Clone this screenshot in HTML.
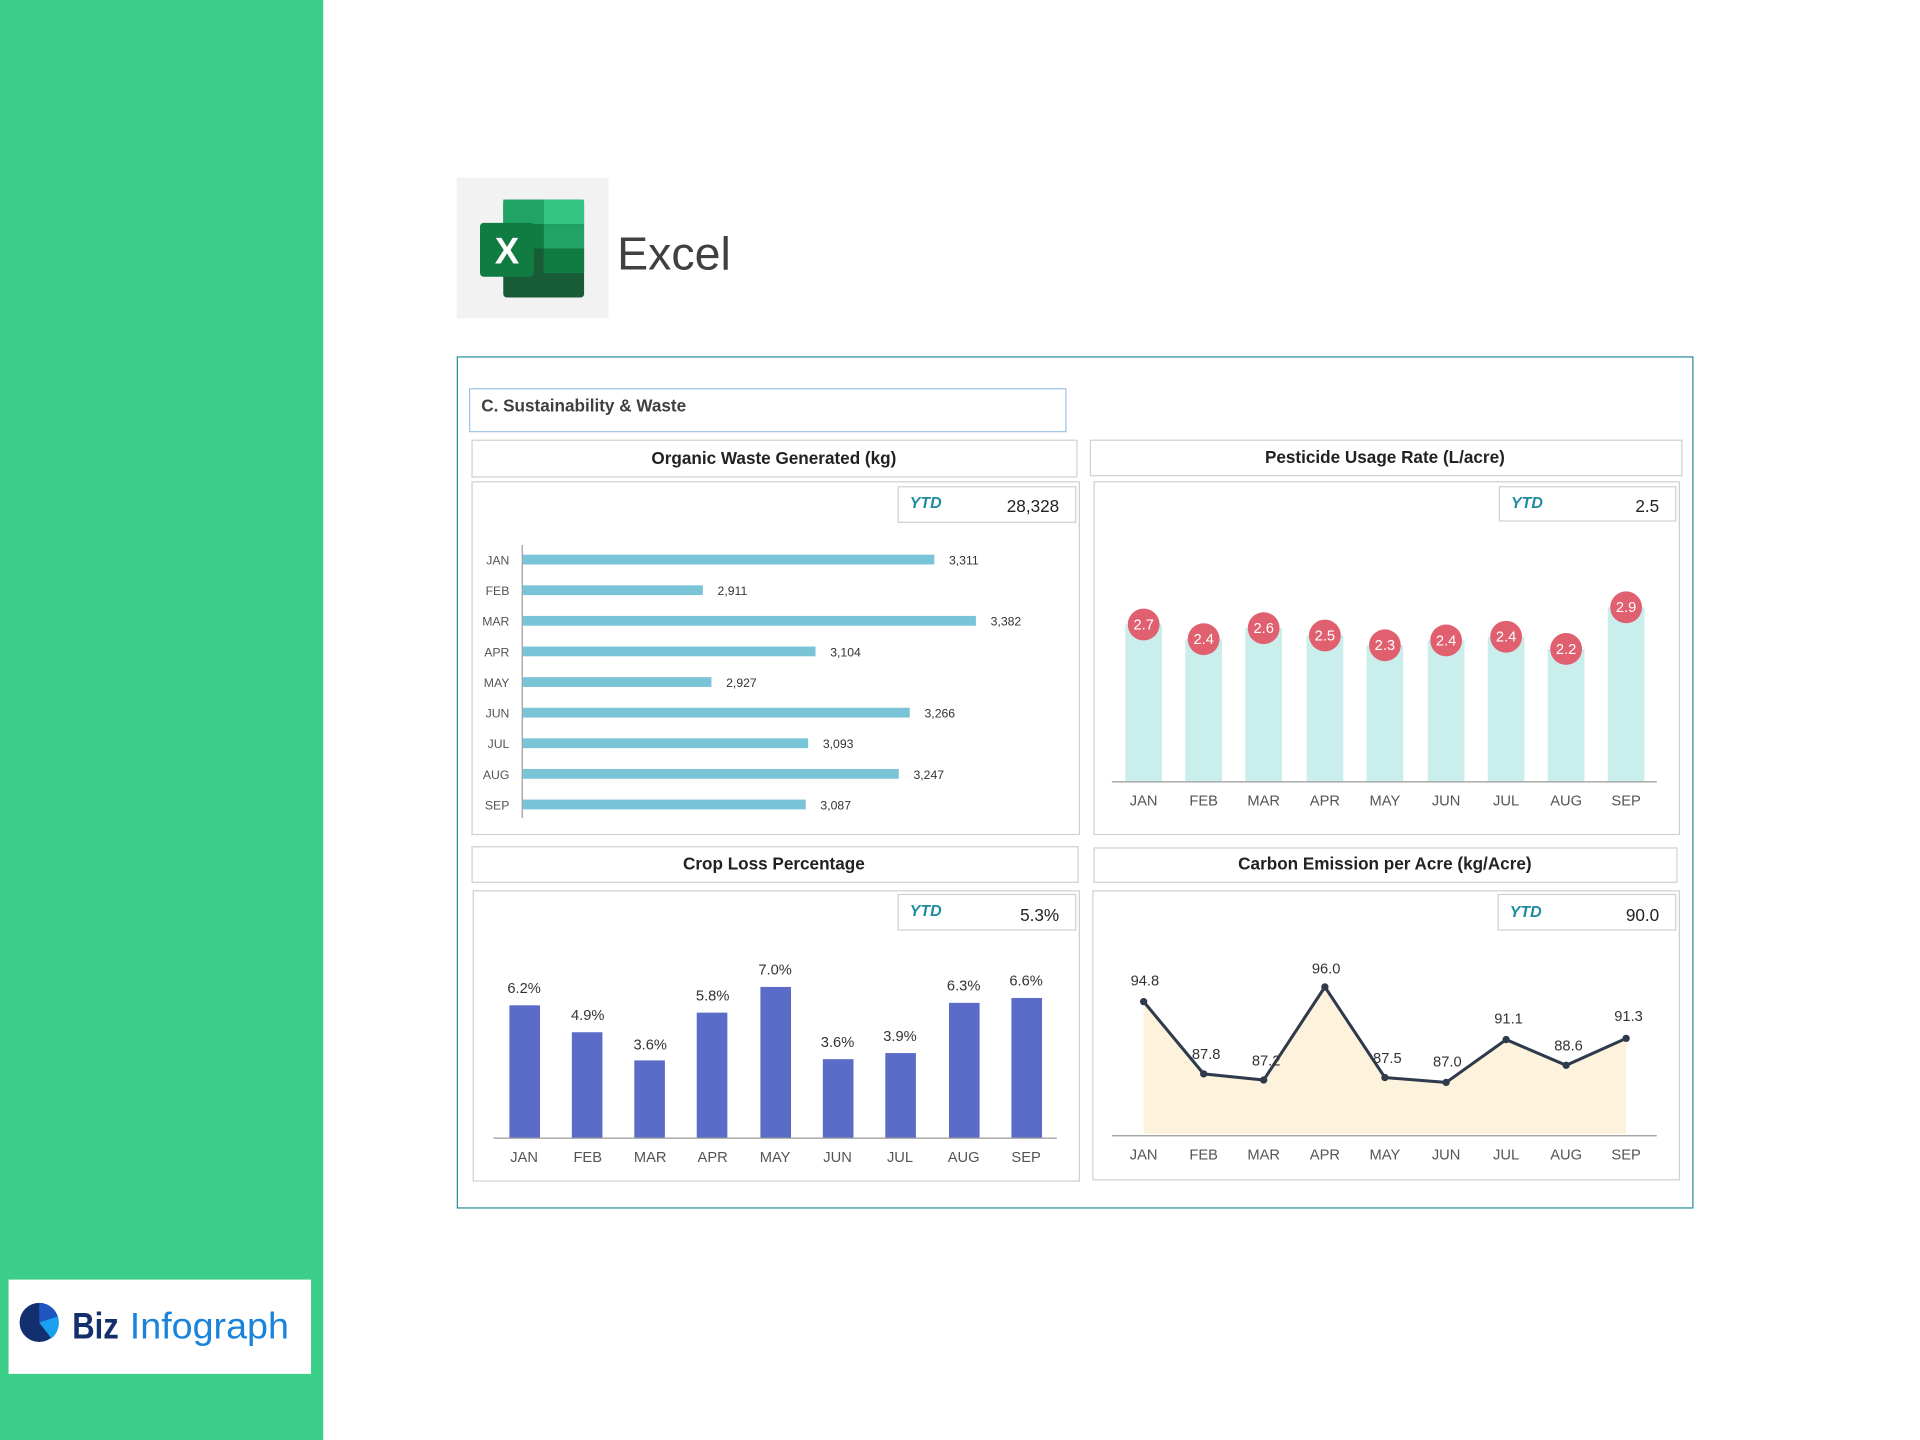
<!DOCTYPE html>
<html><head><meta charset="utf-8"><style>
html,body{margin:0;padding:0;background:#fff}
svg{display:block}
text{font-family:"Liberation Sans",sans-serif}
</style></head><body>
<svg width="1920" height="1440" viewBox="0 0 1568 1176" xmlns="http://www.w3.org/2000/svg">
<rect width="1568" height="1176" fill="#fff"/>
<rect x="0" y="0" width="264" height="1176" fill="#3ccf8a"/>
<!-- logo -->
<rect x="7" y="1045" width="247" height="77" fill="#fff"/>
<circle cx="32" cy="1080" r="16" fill="#13306e"/>
<path d="M32,1080 L32,1064 A16,16 0 0 1 47,1075 Z" fill="#1f55c0"/>
<path d="M32,1080 L47,1075 A16,16 0 0 1 42,1093 Z" fill="#1aa0f0"/>
<text x="59" y="1093" font-size="30" fill="#13306e" font-weight="bold" textLength="38" lengthAdjust="spacingAndGlyphs">Biz</text>
<text x="106" y="1093" font-size="30" fill="#1a84dc" textLength="130" lengthAdjust="spacingAndGlyphs">Infograph</text>
<!-- excel -->
<rect x="373" y="145" width="124" height="115" fill="#f2f2f2"/>
<rect x="411" y="163" width="66" height="80" rx="3" fill="#185c37"/>
<rect x="444" y="163" width="33" height="20" fill="#33c481"/>
<rect x="411" y="163" width="33" height="20" fill="#21a366"/>
<rect x="444" y="183" width="33" height="20" fill="#21a366"/>
<rect x="411" y="183" width="33" height="20" fill="#107c41"/>
<rect x="444" y="203" width="33" height="20" fill="#107c41"/>
<rect x="392" y="182" width="44" height="44" rx="3" fill="#107c41"/>
<text x="414" y="215" font-size="30" fill="#fff" font-weight="bold" text-anchor="middle">X</text>
<text x="504" y="220" font-size="38" fill="#404040">Excel</text>
<!-- frame -->
<rect x="373.5" y="291.5" width="1009" height="695" fill="#fff" stroke="#2a8c9c" stroke-width="1"/>
<rect x="383.5" y="317.5" width="487" height="35" fill="#fff" stroke="#9dc3e6"/>
<text x="393" y="336" font-size="14" font-weight="bold" fill="#404040">C. Sustainability &amp; Waste</text>

<g stroke="#d0d0d0" fill="#fff">
<rect x="385.5" y="359.5" width="494" height="30"/>
<rect x="385.5" y="393.5" width="496" height="288"/>
<rect x="890.5" y="359.5" width="483" height="29"/>
<rect x="893.5" y="393.5" width="478" height="288"/>
<rect x="385.5" y="691.5" width="495" height="29"/>
<rect x="386.5" y="727.5" width="495" height="237"/>
<rect x="893.5" y="692.5" width="476" height="28"/>
<rect x="892.5" y="727.5" width="479" height="236"/>
<rect x="733.5" y="397.5" width="145" height="29"/>
<rect x="1224.5" y="397.5" width="144" height="28"/>
<rect x="733.5" y="730.5" width="145" height="29"/>
<rect x="1223.5" y="730.5" width="145" height="29"/>
</g>
<g font-size="14" font-weight="bold" fill="#222" text-anchor="middle">
<text x="632" y="379">Organic Waste Generated (kg)</text>
<text x="1131" y="378">Pesticide Usage Rate (L/acre)</text>
<text x="632" y="710">Crop Loss Percentage</text>
<text x="1131" y="710">Carbon Emission per Acre (kg/Acre)</text>
</g>
<g font-size="13" font-weight="bold" font-style="italic" fill="#1f8aa0">
<text x="743" y="415">YTD</text><text x="1234" y="415">YTD</text>
<text x="743" y="748">YTD</text><text x="1233" y="749">YTD</text>
</g>
<g font-size="14" fill="#222" text-anchor="end">
<text x="865" y="418">28,328</text><text x="1355" y="418">2.5</text>
<text x="865" y="752">5.3%</text><text x="1355" y="752">90.0</text>
</g>

<!-- organic bars -->
<line x1="426.5" y1="445" x2="426.5" y2="668" stroke="#999"/>
<g fill="#7ac4d8">
<rect x="427" y="453" width="336" height="8"/>
<rect x="427" y="478" width="147" height="8"/>
<rect x="427" y="503" width="370" height="8"/>
<rect x="427" y="528" width="239" height="8"/>
<rect x="427" y="553" width="154" height="8"/>
<rect x="427" y="578" width="316" height="8"/>
<rect x="427" y="603" width="233" height="8"/>
<rect x="427" y="628" width="307" height="8"/>
<rect x="427" y="653" width="231" height="8"/>
</g>
<g font-size="10" fill="#555" text-anchor="end">
<text x="416" y="461">JAN</text><text x="416" y="486">FEB</text><text x="416" y="511">MAR</text><text x="416" y="536">APR</text><text x="416" y="561">MAY</text><text x="416" y="586">JUN</text><text x="416" y="611">JUL</text><text x="416" y="636">AUG</text><text x="416" y="661">SEP</text>
</g>
<g font-size="10" fill="#333">
<text x="775" y="461">3,311</text><text x="586" y="486">2,911</text><text x="809" y="511">3,382</text><text x="678" y="536">3,104</text><text x="593" y="561">2,927</text><text x="755" y="586">3,266</text><text x="672" y="611">3,093</text><text x="746" y="636">3,247</text><text x="670" y="661">3,087</text>
</g>

<!-- pesticide -->
<g fill="#c9eeec">
<rect x="919" y="510" width="30" height="128"/>
<rect x="968" y="522" width="30" height="116"/>
<rect x="1017" y="513" width="30" height="125"/>
<rect x="1067" y="519" width="30" height="119"/>
<rect x="1116" y="527" width="30" height="111"/>
<rect x="1166" y="523" width="30" height="115"/>
<rect x="1215" y="520" width="30" height="118"/>
<rect x="1264" y="530" width="30" height="108"/>
<rect x="1313" y="496" width="30" height="142"/>
</g>
<line x1="908" y1="638.5" x2="1353" y2="638.5" stroke="#999"/>
<g fill="#e0606f">
<circle cx="934" cy="510" r="13"/><circle cx="983" cy="522" r="13"/><circle cx="1032" cy="513" r="13"/><circle cx="1082" cy="519" r="13"/><circle cx="1131" cy="527" r="13"/><circle cx="1181" cy="523" r="13"/><circle cx="1230" cy="520" r="13"/><circle cx="1279" cy="530" r="13"/><circle cx="1328" cy="496" r="13"/>
</g>
<g font-size="12" fill="#fff" text-anchor="middle">
<text x="934" y="514">2.7</text><text x="983" y="526">2.4</text><text x="1032" y="517">2.6</text><text x="1082" y="523">2.5</text><text x="1131" y="531">2.3</text><text x="1181" y="527">2.4</text><text x="1230" y="524">2.4</text><text x="1279" y="534">2.2</text><text x="1328" y="500">2.9</text>
</g>
<g font-size="12" fill="#555" text-anchor="middle">
<text x="934" y="658">JAN</text><text x="983" y="658">FEB</text><text x="1032" y="658">MAR</text><text x="1082" y="658">APR</text><text x="1131" y="658">MAY</text><text x="1181" y="658">JUN</text><text x="1230" y="658">JUL</text><text x="1279" y="658">AUG</text><text x="1328" y="658">SEP</text>
</g>

<!-- crop loss -->
<g fill="#5b6bc8">
<rect x="416" y="821" width="25" height="108"/>
<rect x="467" y="843" width="25" height="86"/>
<rect x="518" y="866" width="25" height="63"/>
<rect x="569" y="827" width="25" height="102"/>
<rect x="621" y="806" width="25" height="123"/>
<rect x="672" y="865" width="25" height="64"/>
<rect x="723" y="860" width="25" height="69"/>
<rect x="775" y="819" width="25" height="110"/>
<rect x="826" y="815" width="25" height="114"/>
</g>
<line x1="403" y1="929.5" x2="863" y2="929.5" stroke="#999"/>
<g font-size="12" fill="#333" text-anchor="middle">
<text x="428" y="811">6.2%</text><text x="480" y="833">4.9%</text><text x="531" y="857">3.6%</text><text x="582" y="817">5.8%</text><text x="633" y="796">7.0%</text><text x="684" y="855">3.6%</text><text x="735" y="850">3.9%</text><text x="787" y="809">6.3%</text><text x="838" y="805">6.6%</text>
</g>
<g font-size="12" fill="#555" text-anchor="middle">
<text x="428" y="949">JAN</text><text x="480" y="949">FEB</text><text x="531" y="949">MAR</text><text x="582" y="949">APR</text><text x="633" y="949">MAY</text><text x="684" y="949">JUN</text><text x="735" y="949">JUL</text><text x="787" y="949">AUG</text><text x="838" y="949">SEP</text>
</g>

<!-- carbon -->
<polygon points="934,926 934,818 983,877 1032,882 1082,806 1131,880 1181,884 1230,849 1279,870 1328,848 1328,926" fill="#fdf3dc"/>
<polyline points="934,818 983,877 1032,882 1082,806 1131,880 1181,884 1230,849 1279,870 1328,848" fill="none" stroke="#2f3b4c" stroke-width="2.5"/>
<g fill="#2f3b4c">
<circle cx="934" cy="818" r="3"/><circle cx="983" cy="877" r="3"/><circle cx="1032" cy="882" r="3"/><circle cx="1082" cy="806" r="3"/><circle cx="1131" cy="880" r="3"/><circle cx="1181" cy="884" r="3"/><circle cx="1230" cy="849" r="3"/><circle cx="1279" cy="870" r="3"/><circle cx="1328" cy="848" r="3"/>
</g>
<line x1="908" y1="927.5" x2="1353" y2="927.5" stroke="#999"/>
<g font-size="12" fill="#333" text-anchor="middle">
<text x="935" y="805">94.8</text><text x="985" y="865">87.8</text><text x="1034" y="870">87.2</text><text x="1083" y="795">96.0</text><text x="1133" y="868">87.5</text><text x="1182" y="871">87.0</text><text x="1232" y="836">91.1</text><text x="1281" y="858">88.6</text><text x="1330" y="834">91.3</text>
</g>
<g font-size="12" fill="#555" text-anchor="middle">
<text x="934" y="947">JAN</text><text x="983" y="947">FEB</text><text x="1032" y="947">MAR</text><text x="1082" y="947">APR</text><text x="1131" y="947">MAY</text><text x="1181" y="947">JUN</text><text x="1230" y="947">JUL</text><text x="1279" y="947">AUG</text><text x="1328" y="947">SEP</text>
</g>
</svg>
</body></html>
